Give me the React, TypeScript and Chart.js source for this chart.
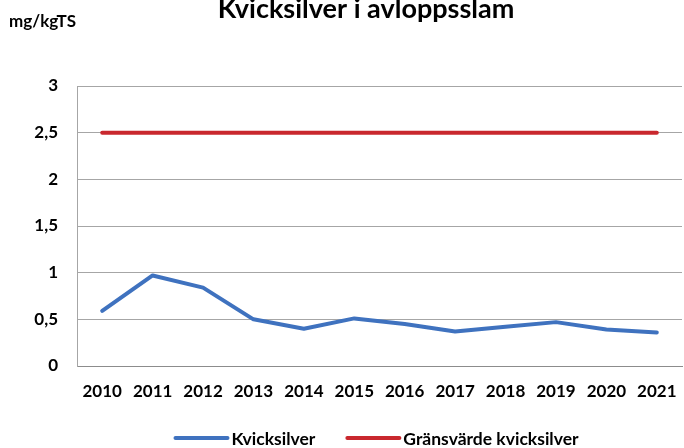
import React, { useEffect, useRef } from "react";
import { Chart, registerables } from "chart.js";

Chart.register(...registerables);

const years = ["2010", "2011", "2012", "2013", "2014", "2015", "2016", "2017", "2018", "2019", "2020", "2021"];
const kvicksilver = [0.59, 0.97, 0.84, 0.5, 0.4, 0.51, 0.45, 0.37, 0.42, 0.47, 0.39, 0.36];
const gransvarde = [2.5, 2.5, 2.5, 2.5, 2.5, 2.5, 2.5, 2.5, 2.5, 2.5, 2.5, 2.5];
const seriesNames = ["Kvicksilver", "Gränsvärde kvicksilver"];
const titleText = "Kvicksilver i avloppsslam";
const unitText = "mg/kgTS";

const FONT = "Lato, 'Open Sans', sans-serif";
const BLUE = "#3F72BF";
const RED = "#C9282E";

const decorPlugin = {
  id: "decor",
  afterDraw(chart: any) {
    const ctx = chart.ctx;
    ctx.save();
    ctx.fillStyle = "#000";
    // title
    ctx.font = `bold 27px ${FONT}`;
    ctx.textAlign = "center";
    ctx.textBaseline = "alphabetic";
    ctx.fillText(titleText, 366, 18);
    // unit
    ctx.font = `bold 17px ${FONT}`;
    ctx.textAlign = "left";
    ctx.fillText(unitText, 9, 27);
    // legend
    ctx.font = `bold 17.5px ${FONT}`;
    const lineLen = 52;
    const gap = 4;
    const spacing = 32;
    const items = chart.data.datasets.map((d: any) => ({
      label: d.label,
      color: d.borderColor,
      w: ctx.measureText(d.label).width,
    }));
    let total = 0;
    items.forEach((it: any, i: number) => {
      total += lineLen + gap + it.w + (i > 0 ? spacing : 0);
    });
    let x = 377 - total / 2;
    const y = 438;
    items.forEach((it: any) => {
      ctx.strokeStyle = it.color;
      ctx.lineWidth = 4;
      ctx.lineCap = "round";
      ctx.beginPath();
      ctx.moveTo(x, y);
      ctx.lineTo(x + lineLen, y);
      ctx.stroke();
      x += lineLen + gap;
      ctx.fillStyle = "#000";
      ctx.textBaseline = "middle";
      ctx.textAlign = "left";
      ctx.fillText(it.label, x, y + 1);
      x += it.w + spacing;
    });
    ctx.restore();
  },
};

export default function App() {
  const ref = useRef<HTMLCanvasElement | null>(null);
  useEffect(() => {
    document.body.style.margin = "0";
    if (!ref.current) return;
    const chart = new Chart(ref.current, {
      type: "line",
      data: {
        labels: years,
        datasets: [
          {
            label: seriesNames[0],
            data: kvicksilver,
            borderColor: BLUE,
            backgroundColor: BLUE,
            borderWidth: 4,
            pointRadius: 0,
            tension: 0,
            borderCapStyle: "round",
            borderJoinStyle: "round",
          },
          {
            label: seriesNames[1],
            data: gransvarde,
            borderColor: RED,
            backgroundColor: RED,
            borderWidth: 4,
            pointRadius: 0,
            tension: 0,
            borderCapStyle: "round",
          },
        ],
      },
      options: {
        responsive: false,
        animation: false,
        devicePixelRatio: 1,
        layout: { padding: { left: 0, right: 2, top: 86, bottom: 42 } },
        plugins: {
          legend: { display: false },
          title: { display: false },
          tooltip: { enabled: false },
        },
        scales: {
          x: {
            offset: true,
            grid: { display: false, drawTicks: false },
            border: { display: true, color: "#8C8C8C", width: 1 },
            ticks: {
              color: "#000",
              padding: 15,
              maxRotation: 0,
              autoSkip: false,
              font: { family: FONT, size: 17, weight: "bold" },
            },
            afterFit(scale: any) {
              scale.height = 40;
              scale.paddingLeft = 0;
              scale.paddingRight = 0;
            },
          },
          y: {
            min: 0,
            max: 3,
            ticks: {
              stepSize: 0.5,
              color: "#000",
              padding: 19,
              font: { family: FONT, size: 17, weight: "bold" },
              callback: (v: any) => String(v).replace(".", ","),
            },
            grid: { color: "#A6A6A6", lineWidth: 1, drawTicks: false },
            border: { display: true, color: "#A6A6A6", width: 1 },
            afterFit(scale: any) {
              scale.width = 77;
            },
          },
        },
      },
      plugins: [decorPlugin],
    });
    return () => chart.destroy();
  }, []);
  return (
    <div style={{ width: 684, height: 448, background: "#fff" }}>
      <canvas ref={ref} width={684} height={448} style={{ display: "block" }} />
    </div>
  );
}
